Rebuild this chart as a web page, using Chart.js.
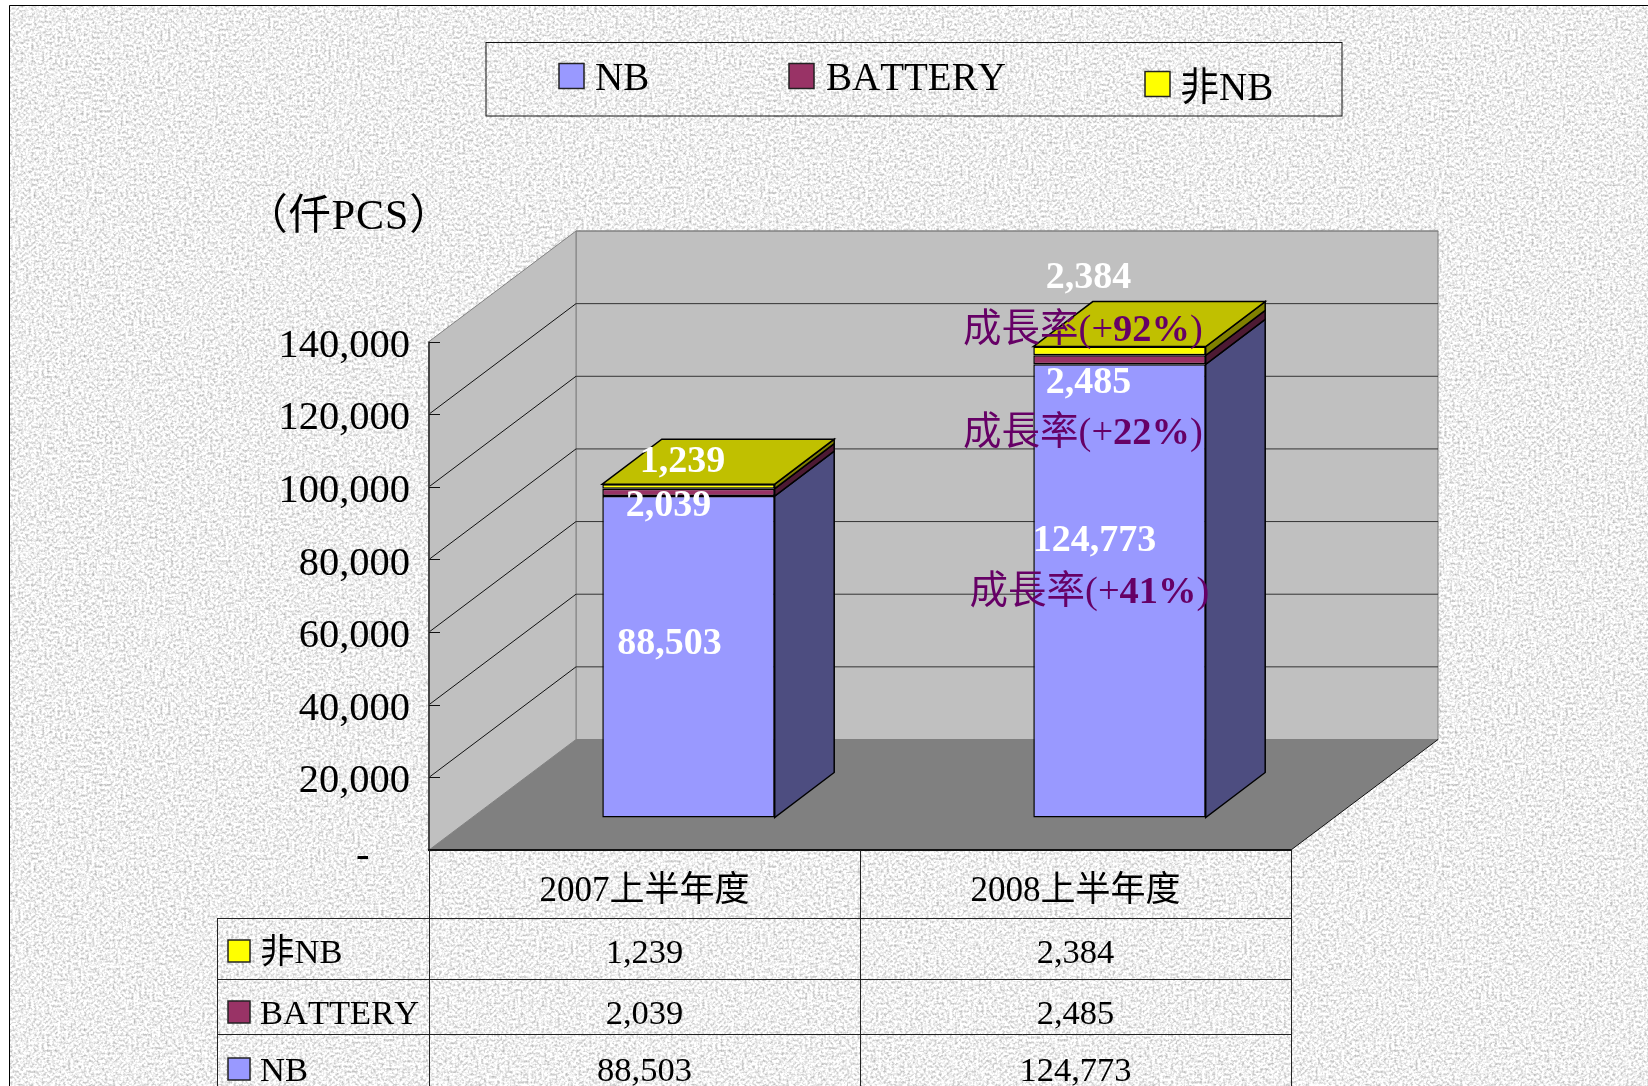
<!DOCTYPE html>
<html lang="zh-Hant">
<head>
<meta charset="utf-8">
<title>2007 / 2008 上半年度</title>
<style>
html,body{margin:0;padding:0;background:#fff;width:1648px;height:1086px;overflow:hidden}
#bg{position:absolute;left:0;top:0}
#c{position:absolute;left:0;top:0;display:block}
</style>
<script src="https://cdn.jsdelivr.net/npm/chart.js@4"></script>
</head>
<body>
<svg id="bg" width="1648" height="1086" xmlns="http://www.w3.org/2000/svg">
  <defs>
    <filter id="grain" x="0" y="0" width="100%" height="100%" color-interpolation-filters="sRGB">
      <feTurbulence type="fractalNoise" baseFrequency="0.38" numOctaves="2" seed="11"/>
      <feColorMatrix type="matrix" values="0.62 0 0 0 0.63  0.62 0 0 0 0.63  0.62 0 0 0 0.63  0 0 0 0 1"/>
      <feGaussianBlur stdDeviation="0.6"/>
    </filter>
  </defs>
  <rect x="9.5" y="5.5" width="1700" height="1200" fill="#eee" filter="url(#grain)"/>
  <path d="M9.5 1086V5.5H1648" fill="none" stroke="#000" stroke-width="1"/>
</svg>
<canvas id="c" width="1648" height="1086"></canvas>
<script>
const categories = ['2007上半年度', '2008上半年度'];
const seriesNames = ['NB', 'BATTERY', '非NB'];
const nbValues = [88503, 124773];
const batteryValues = [2039, 2485];
const nonNbValues = [1239, 2384];
const yTicks = [0, 20000, 40000, 60000, 80000, 100000, 120000, 140000];
const growthRates = [null, [41, 22, 92]];
const unitLabel = '（仟PCS）';

const SERIF = '"Liberation Serif","Noto Sans CJK TC",serif';
const faceColors = ['#9999ff', '#993366', '#ffff00'];
const sideColors = ['#4d4d80', '#4d1a33', '#808000'];
const topColor = '#c0c000';
const WALL = {dx: 147, dy: -110.5};
const BAR_SHIFT = {dx: 44, dy: -32.5};
const BAR_DEPTH = {dx: 59.5, dy: -45};

// label offsets from the top centre of each drawn segment: [series][category]
const valueOffsets = [
  [[-19, 148], [-25, 177]],
  [[-20, 18], [-31, 28]],
  [[-6, -22], [-31, -68]]
];
const growthOffsets = [[-30, 229], [-36.5, 79], [-36.5, -16]];

function poly(ctx, pts, fill, stroke, lw) {
  ctx.beginPath();
  pts.forEach((p, i) => i ? ctx.lineTo(p[0], p[1]) : ctx.moveTo(p[0], p[1]));
  ctx.closePath();
  if (fill) { ctx.fillStyle = fill; ctx.fill(); }
  if (stroke) { ctx.strokeStyle = stroke; ctx.lineWidth = lw || 1; ctx.stroke(); }
}
function line(ctx, x1, y1, x2, y2, color, lw) {
  ctx.beginPath(); ctx.moveTo(x1, y1); ctx.lineTo(x2, y2);
  ctx.strokeStyle = color; ctx.lineWidth = lw || 1; ctx.stroke();
}

const wallsPlugin = {
  id: 'walls',
  beforeDraw(chart) {
    const {ctx, chartArea: a, scales: {y}} = chart;
    ctx.fontKerning = 'none';
    y.getLabelItems(a).forEach(it => {
      if (!it.shifted) { it.options.translation[1] += (it.label === '-    ' ? 6.5 : 4.5); it.shifted = true; }
    });
    const {dx, dy} = WALL, top = y.getPixelForValue(140000), l = a.left, r = a.right, b = a.bottom;
    ctx.save();
    poly(ctx, [[l + dx, top + dy], [r + dx, top + dy], [r + dx, b + dy], [l + dx, b + dy]], '#c0c0c0', '#808080');
    poly(ctx, [[l, top], [l + dx, top + dy], [l + dx, b + dy], [l, b]], '#c0c0c0', '#808080');
    y.ticks.forEach(t => {
      if (t.value === 0 || t.value === 140000) return;
      const p = y.getPixelForValue(t.value);
      line(ctx, l, p, l + dx, p + dy, '#111');
      line(ctx, l + dx, p + dy, r + dx, p + dy, '#333');
    });
    const tp = y.getPixelForValue(140000);
    line(ctx, l + dx, tp + dy, r + dx, tp + dy, '#808080');
    poly(ctx, [[l, b], [l + dx, b + dy], [r + dx, b + dy], [r, b]], '#808080');
    line(ctx, r, b, r + dx, b + dy, '#111');
    line(ctx, l, top, l, b + 1, '#444', 2);
    y.ticks.forEach(t => {
      const p = Math.round(y.getPixelForValue(t.value)) + 0.5;
      if (t.value) line(ctx, l, p, l + 11, p, '#111');
    });
    ctx.restore();
  }
};

const bars3dPlugin = {
  id: 'bars3d',
  beforeDatasetsDraw(chart) {
    const {ctx} = chart;
    ctx.save();
    ctx.translate(BAR_SHIFT.dx, BAR_SHIFT.dy);
    const d = BAR_DEPTH;
    chart.data.datasets.forEach((ds, s) => {
      chart.getDatasetMeta(s).data.forEach(el => {
        const {x, y, base, width} = el.getProps(['x', 'y', 'base', 'width']);
        const right = x + width / 2, left = x - width / 2;
        poly(ctx, [[right, y], [right + d.dx, y + d.dy], [right + d.dx, base + d.dy], [right, base]], sideColors[s], '#000', 1.5);
        if (s === chart.data.datasets.length - 1) {
          poly(ctx, [[left, y], [left + d.dx, y + d.dy], [right + d.dx, y + d.dy], [right, y]], topColor, '#000', 1.5);
        }
      });
    });
  },
  afterDatasetsDraw(chart) {
    const {ctx} = chart;
    ctx.restore();
    ctx.save();
    ctx.textBaseline = 'middle';
    chart.data.datasets.forEach((ds, s) => {
      chart.getDatasetMeta(s).data.forEach((el, c) => {
        const {x, y} = el.getProps(['x', 'y']);
        const cx = x + BAR_SHIFT.dx, cy = y + BAR_SHIFT.dy;
        const o = valueOffsets[s][c];
        ctx.font = 'bold 38px ' + SERIF;
        ctx.fillStyle = '#ffffff';
        ctx.textAlign = 'center';
        ctx.fillText(ds.data[c].toLocaleString('en-US'), cx + o[0], cy + o[1]);
        const g = growthRates[c];
        if (g) {
          const parts = [['成長率(+', ''], [g[s] + '%', 'bold '], [')', '']];
          let w = 0;
          parts.forEach(p => { ctx.font = p[1] + '38.5px ' + SERIF; w += ctx.measureText(p[0]).width; });
          let px = cx + growthOffsets[s][0] - w / 2;
          const py = cy + growthOffsets[s][1];
          ctx.textAlign = 'left';
          ctx.fillStyle = '#660066';
          parts.forEach(p => {
            ctx.font = p[1] + '38.5px ' + SERIF;
            ctx.fillText(p[0], px, py);
            px += ctx.measureText(p[0]).width;
          });
        }
      });
    });
    ctx.restore();
  }
};

const tablePlugin = {
  id: 'dataTable',
  afterDraw(chart) {
    const {ctx, chartArea: a, scales: {x}} = chart;
    const rowLines = [918, 979, 1034];
    const rowCenters = [951, 1012, 1069];
    const colLeft = 217.5, bottom = 1086;
    const order = [2, 1, 0];
    ctx.save();
    line(ctx, a.left - 1, a.bottom, a.right + 0.5, a.bottom, '#111', 2);
    const mid = (x.getPixelForTick(0) + x.getPixelForTick(1)) / 2;
    [a.left, mid, a.right].forEach(px => line(ctx, Math.floor(px) + 0.5, a.bottom, Math.floor(px) + 0.5, bottom, '#222'));
    line(ctx, colLeft, rowLines[0], colLeft, bottom, '#222');
    rowLines.forEach(py => line(ctx, colLeft, py + 0.5, a.right, py + 0.5, '#222'));
    ctx.textBaseline = 'middle';
    order.forEach((s, r) => {
      const ds = chart.data.datasets[s], cy = rowCenters[r];
      ctx.fillStyle = faceColors[s]; ctx.fillRect(228, cy - 11, 22, 22);
      ctx.strokeStyle = '#222'; ctx.lineWidth = 1.5; ctx.strokeRect(228, cy - 11, 22, 22);
      ctx.fillStyle = '#000';
      ctx.font = '34.5px ' + SERIF;
      ctx.textAlign = 'left';
      ctx.fillText(ds.label, 260, cy + 3);
      ctx.textAlign = 'center';
      ds.data.forEach((v, c) => ctx.fillText(v.toLocaleString('en-US'), x.getPixelForTick(c), cy + 3));
    });
    // legend box and unit label
    ctx.strokeStyle = '#111'; ctx.lineWidth = 1;
    ctx.strokeRect(486, 42.5, 856, 73.5);
    const items = [[559, 76, 595], [789, 76, 826], [1145, 84, 1180]];
    ctx.textAlign = 'left';
    items.forEach((it, s) => {
      ctx.fillStyle = faceColors[s]; ctx.fillRect(it[0], it[1] - 12.5, 25, 25);
      ctx.strokeStyle = '#222'; ctx.lineWidth = 1.5; ctx.strokeRect(it[0], it[1] - 12.5, 25, 25);
      ctx.fillStyle = '#000';
      ctx.font = '39px ' + SERIF;
      ctx.fillText(seriesNames[s], it[2], it[1] + (s === 2 ? 6 : 4));
    });
    ctx.font = '42px ' + SERIF;
    ctx.letterSpacing = '1px';
    ctx.textAlign = 'center';
    ctx.fillText(unitLabel, 349, 218);
    ctx.restore();
  }
};

new Chart(document.getElementById('c'), {
  type: 'bar',
  data: {
    labels: categories,
    datasets: [nbValues, batteryValues, nonNbValues].map((vals, i) => ({
      label: seriesNames[i],
      data: vals,
      backgroundColor: faceColors[i],
      borderColor: '#000',
      borderWidth: 1.5,
      borderSkipped: false,
      clip: false,
      categoryPercentage: 1,
      barPercentage: 0.4
    }))
  },
  options: {
    responsive: false,
    animation: false,
    events: [],
    layout: {padding: {left: 0, top: 341.5, right: 357, bottom: 168}},
    plugins: {legend: {display: false}, tooltip: {enabled: false}, title: {display: false}},
    scales: {
      x: {
        stacked: true,
        grid: {display: false},
        border: {display: false},
        afterFit(s) { s.height = 68; },
        ticks: {
          font: {family: SERIF, size: 35},
          color: '#000',
          padding: 13,
          autoSkip: false,
          maxRotation: 0
        }
      },
      y: {
        stacked: true,
        min: 0,
        max: 140000,
        grid: {display: false},
        border: {display: false},
        afterFit(s) { s.width = 429; },
        afterBuildTicks(s) { s.ticks = yTicks.map(value => ({value})); },
        ticks: {
          font: {family: SERIF, size: 40.5},
          color: '#000',
          padding: 11,
          callback: v => v === 0 ? '-    ' : Number(v).toLocaleString('en-US')
        }
      }
    }
  },
  plugins: [wallsPlugin, bars3dPlugin, tablePlugin]
});
</script>
</body>
</html>
